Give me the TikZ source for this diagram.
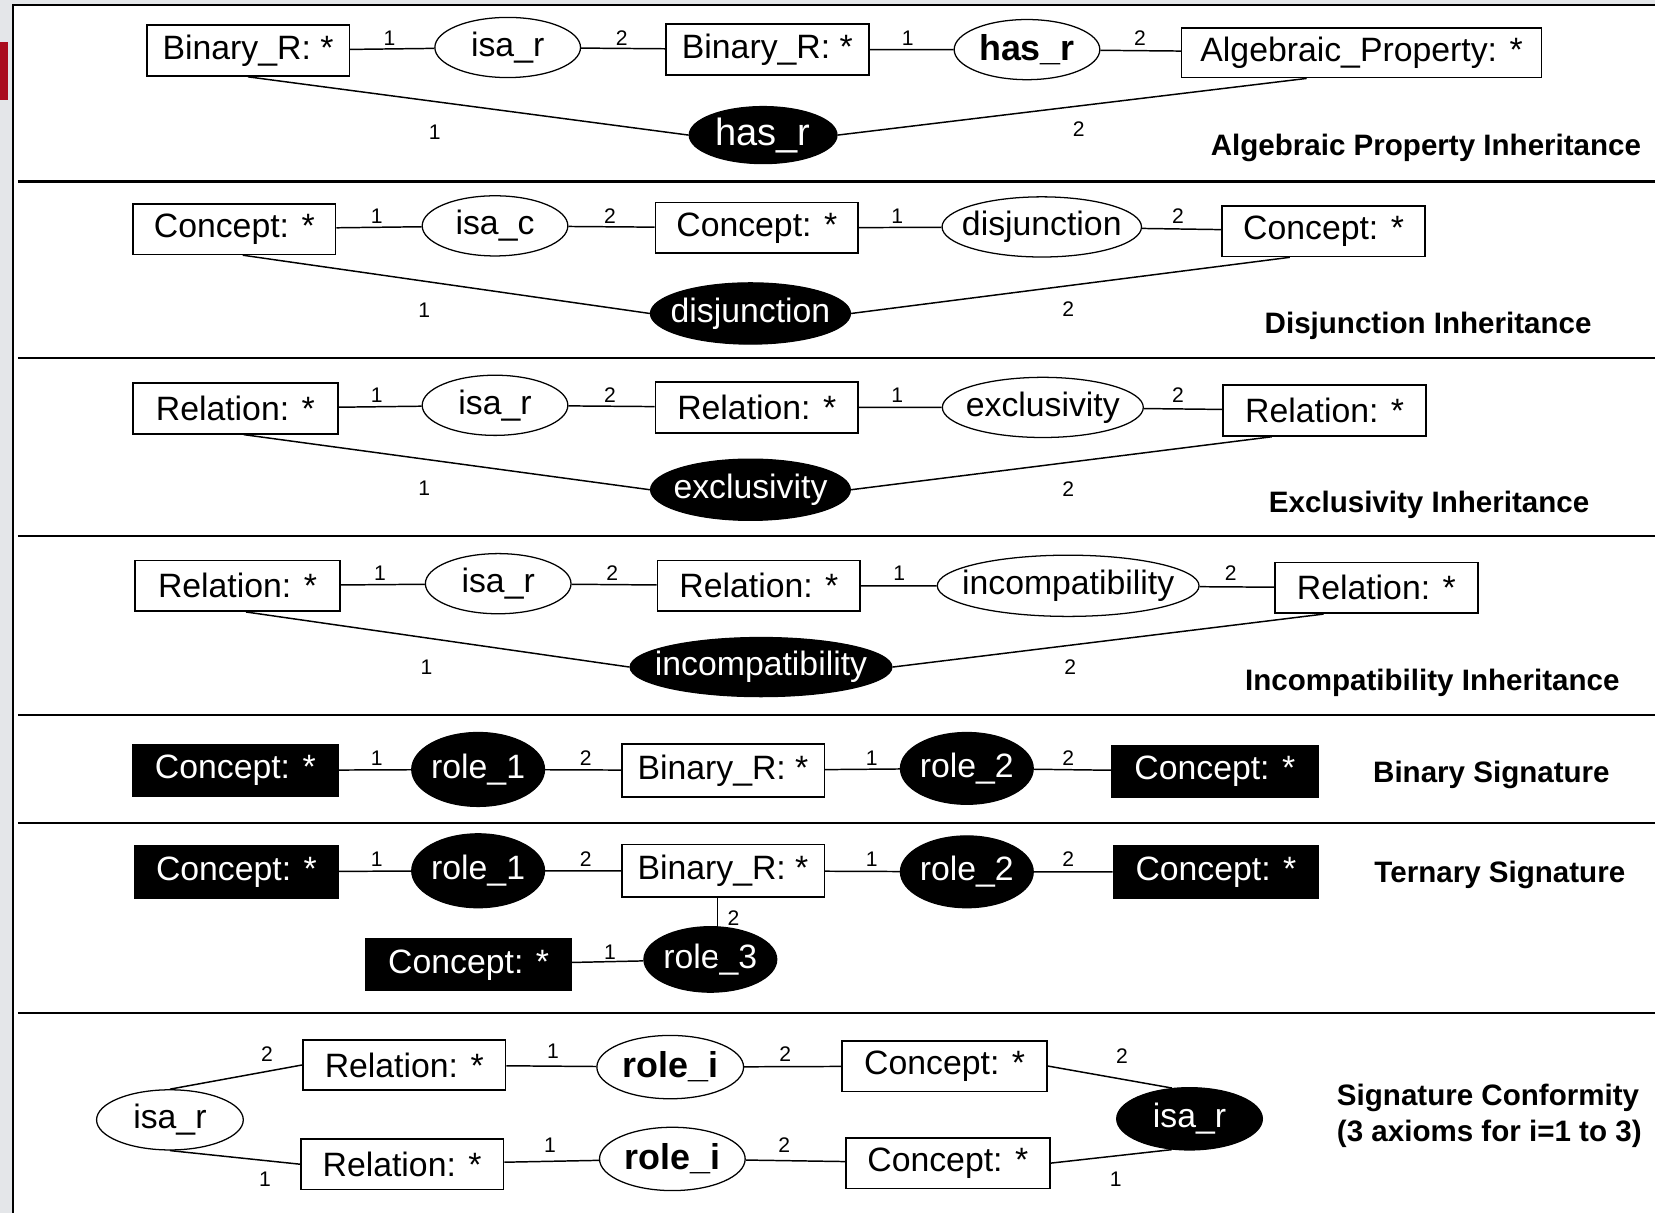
\documentclass[tikz,border=0pt]{standalone}
\usepackage{fontspec}
\setmainfont{Liberation Sans}
\usepackage{tikz}
\usetikzlibrary{shapes.geometric,positioning,calc}
\definecolor{framegray}{RGB}{228,230,233}
\definecolor{markred}{RGB}{170,12,30}
\newcommand{\boxfont}{\fontsize{16}{18}\selectfont}
\tikzset{
  ent/.style={draw,rectangle,line width=0.8pt,inner sep=0pt,minimum width=96pt,minimum height=24pt,font=\boxfont},
  bent/.style={ent,fill=black,text=white,minimum width=97.5pt,minimum height=24.5pt},
  rel/.style={draw,ellipse,line width=0.6pt,inner sep=0pt,minimum width=69pt,minimum height=28.5pt,font=\boxfont},
  relb/.style={rel,font=\fontsize{17}{19}\selectfont\bfseries},
  brel/.style={rel,fill=black,text=white},
  num/.style={inner sep=0pt,font=\fontsize{10}{12}\selectfont},
  ttl/.style={inner sep=0pt,align=left,font=\fontsize{14}{17}\selectfont\bfseries},
  link/.style={line width=0.7pt},
  sep/.style={line width=1pt}
}
\begin{document}
\begin{tikzpicture}[x=0.5pt,y=-0.5pt]
\useasboundingbox (0,0) rectangle (1568,1149);
\fill[framegray] (0,0) rectangle (1568,1149);
\fill[white] (12,5) rectangle (1568,1149);
\fill[markred] (0,40) rectangle (8,95);
\draw[sep] (12,1149) -- (12,5) -- (1568,5);
\foreach \y in {172,339,508,677,780,960}
  \draw[sep] (17,\y) -- (1568,\y);

% algebraic property inheritance
\node[ent] (br1) at (235,48) {Binary\_R: *};
\node[rel] (isa1) at (481,45) {isa\_r};
\node[ent] (br2) at (727,47) {Binary\_R: *};
\node[relb] (has1) at (973,47) {has\_r};
\node[ent,minimum width=170.5pt,minimum height=23.5pt] (alg) at (1290,50) {Algebraic\_Property: *};
\node[brel,minimum width=70pt,minimum height=27pt,font=\fontsize{18}{20}\selectfont] (has2) at (723,128) {has\_r};
\draw[link] (br1) -- (isa1) (isa1) -- (br2) (br2) -- (has1) (has1) -- (alg);
\draw[link] (br1.south) -- (has2.west);
\draw[link] ([xshift=-26pt]alg.south) -- (has2.east);
\node[num] (n11) at (369,36) {1};
\node[num] (n12) at (589,36) {2};
\node[num] (n13) at (860,36) {1};
\node[num] (n14) at (1080,36) {2};
\node[num] (n15) at (412,125) {1};
\node[num] (n16) at (1022,122) {2};
\node[ttl] (t1) at (1351,140) {Algebraic Property Inheritance};

% disjunction inheritance
\node[ent] (c21) at (222,217) {Concept: *};
\node[rel] (isa2) at (469,214) {isa\_c};
\node[ent] (c22) at (717,216) {Concept: *};
\node[rel,minimum width=94pt,inner xsep=-4.4pt] (dis1) at (987,215) {disjunction};
\node[ent] (c23) at (1254,219) {Concept: *};
\node[brel,minimum width=94.5pt,minimum height=29pt,inner xsep=-4.3pt] (dis2) at (711,297) {disjunction};
\draw[link] (c21) -- (isa2) (isa2) -- (c22) (c22) -- (dis1) (dis1) -- (c23);
\draw[link] ([xshift=4pt]c21.south) -- (dis2.west);
\draw[link] ([xshift=-16pt]c23.south) -- (dis2.east);
\node[num] (n21) at (357,205) {1};
\node[num] (n22) at (578,205) {2};
\node[num] (n23) at (850,205) {1};
\node[num] (n24) at (1116,205) {2};
\node[num] (n25) at (402,294) {1};
\node[num] (n26) at (1012,293) {2};
\node[ttl] (t2) at (1353,309) {Disjunction Inheritance};

% exclusivity inheritance
\node[ent,minimum width=97pt] (r31) at (223,387) {Relation: *};
\node[rel] (isa3) at (469,384) {isa\_r};
\node[ent] (r32) at (717,386) {Relation: *};
\node[rel,minimum width=95pt,inner xsep=-2.8pt] (exc1) at (988,386) {exclusivity};
\node[ent] (r33) at (1255,389) {Relation: *};
\node[brel,minimum width=94.5pt,minimum height=29pt,inner xsep=-3pt] (exc2) at (711,464) {exclusivity};
\draw[link] (r31) -- (isa3) (isa3) -- (r32) (r32) -- (exc1) (exc1) -- (r33);
\draw[link] ([xshift=4pt]r31.south) -- (exc2.west);
\draw[link] ([xshift=-25pt]r33.south) -- (exc2.east);
\node[num] (n31) at (357,374) {1};
\node[num] (n32) at (578,374) {2};
\node[num] (n33) at (850,374) {1};
\node[num] (n34) at (1116,374) {2};
\node[num] (n35) at (402,463) {1};
\node[num] (n36) at (1012,463) {2};
\node[ttl] (t3) at (1354,478) {Exclusivity Inheritance};

% incompatibility inheritance
\node[ent,minimum width=97pt] (r41) at (225,555) {Relation: *};
\node[rel] (isa4) at (472,553) {isa\_r};
\node[ent] (r42) at (719,555) {Relation: *};
\node[rel,minimum width=124pt,minimum height=29pt,inner xsep=-6.6pt] (inc1) at (1012,555) {incompatibility};
\node[ent] (r43) at (1304,557) {Relation: *};
\node[brel,minimum width=124pt,minimum height=28pt,inner xsep=-6.5pt] (inc2) at (721,632) {incompatibility};
\draw[link] (r41) -- (isa4) (isa4) -- (r42) (r42) -- (inc1) (inc1) -- (r43);
\draw[link] ([xshift=4pt]r41.south) -- (inc2.west);
\draw[link] ([xshift=-25pt]r43.south) -- (inc2.east);
\node[num] (n41) at (360,543) {1};
\node[num] (n42) at (580,543) {2};
\node[num] (n43) at (852,543) {1};
\node[num] (n44) at (1166,543) {2};
\node[num] (n45) at (404,632) {1};
\node[num] (n46) at (1014,632) {2};
\node[ttl] (t4) at (1357,647) {Incompatibility Inheritance};

% binary signature
\node[bent] (c51) at (223,730) {Concept: *};
\node[brel,minimum width=61.5pt,minimum height=35pt] (ro51) at (453,729) {role\_1};
\node[ent,minimum height=25pt] (br5) at (685,730) {Binary\_R: *};
\node[brel,minimum width=60.5pt,minimum height=34pt] (ro52) at (916,728) {role\_2};
\node[bent] (c52) at (1151,731) {Concept: *};
\draw[link] (c51) -- (ro51) (ro51) -- (br5) (br5) -- (ro52) (ro52) -- (c52);
\node[num] (n51) at (357,718) {1};
\node[num] (n52) at (555,718) {2};
\node[num] (n53) at (826,718) {1};
\node[num] (n54) at (1012,718) {2};
\node[ttl] (t5) at (1413,734) {Binary Signature};

% ternary signature
\node[bent,minimum width=96.5pt] (c61) at (224,826) {Concept: *};
\node[brel,minimum width=61.5pt,minimum height=35pt] (ro61) at (453,825) {role\_1};
\node[ent,minimum height=25pt] (br6) at (685,825) {Binary\_R: *};
\node[brel,minimum width=60.5pt,minimum height=34pt] (ro62) at (916,826) {role\_2};
\node[bent,minimum width=97pt] (c62) at (1152,826) {Concept: *};
\node[brel,minimum width=60pt,minimum height=31pt] (ro63) at (673,909) {role\_3};
\node[bent,minimum width=97pt] (c63) at (444,914) {Concept: *};
\draw[link] (c61) -- (ro61) (ro61) -- (br6) (br6) -- (ro62) (ro62) -- (c62);
\draw[link] ([xshift=-2.5pt]br6.south) -- ([xshift=-2.5pt]br6.south |- ro63.center);
\draw[link] (c63) -- (ro63);
\node[num] (n61) at (357,814) {1};
\node[num] (n62) at (555,814) {2};
\node[num] (n63) at (826,814) {1};
\node[num] (n64) at (1012,814) {2};
\node[num] (n65) at (695,870) {2};
\node[num] (n66) at (578,902) {1};
\node[ttl] (t6) at (1421,829) {Ternary Signature};

% signature conformity
\node[rel,minimum width=69.5pt] (isa7) at (161,1061) {isa\_r};
\node[ent] (r71) at (383,1009) {Relation: *};
\node[ent] (r72) at (381,1103) {Relation: *};
\node[relb,minimum width=69.5pt,minimum height=30pt] (ro71) at (635,1011) {role\_i};
\node[relb,minimum width=69pt,minimum height=30pt] (ro72) at (637,1098) {role\_i};
\node[ent,minimum width=97pt] (c71) at (895,1010) {Concept: *};
\node[ent,minimum width=96.5pt] (c72) at (898,1102) {Concept: *};
\node[brel,minimum width=69pt,minimum height=29.5pt] (isa8) at (1127,1060) {isa\_r};
\draw[link] (isa7.north) -- (r71.west);
\draw[link] (isa7.south) -- (r72.west);
\draw[link] (r71) -- (ro71) (ro71) -- (c71) (r72) -- (ro72) (ro72) -- (c72);
\draw[link] (c71.east) -- (isa8.120);
\draw[link] (c72.east) -- (isa8.240);
\node[num] (n71) at (253,999) {2};
\node[num] (n72) at (251,1117) {1};
\node[num] (n73) at (524,996) {1};
\node[num] (n74) at (744,999) {2};
\node[num] (n75) at (521,1085) {1};
\node[num] (n76) at (743,1085) {2};
\node[num] (n77) at (1063,1001) {2};
\node[num] (n78) at (1057,1117) {1};
\node[ttl] (t7) at (1411,1057) {Signature Conformity\\(3 axioms for i=1 to 3)};
\end{tikzpicture}
\end{document}
